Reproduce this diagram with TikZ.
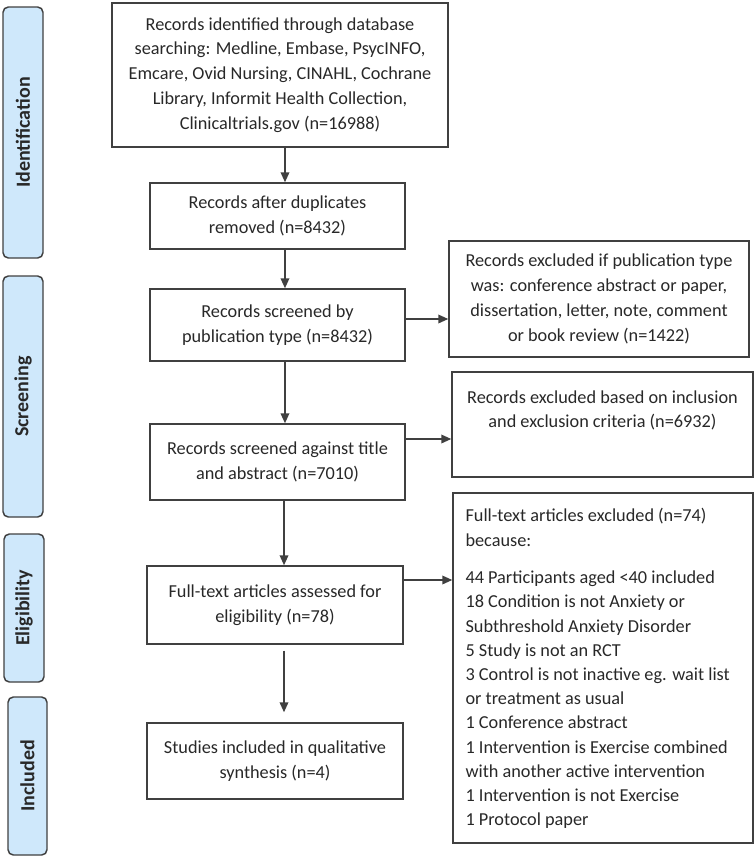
\documentclass[tikz,border=0pt]{standalone}
\usepackage{fontspec}
\setmainfont{Carlito}
\usetikzlibrary{arrows.meta,calc}
\definecolor{sidefill}{RGB}{207,232,251}
\definecolor{linegray}{RGB}{64,64,64}
\definecolor{textgray}{RGB}{40,40,40}
\tikzset{
  box/.style={draw=linegray, line width=1.1pt, rectangle, inner sep=0pt, text=textgray,
    font=\fontsize{13.7pt}{18.6pt}\selectfont, align=center},
  side/.style={draw=linegray, line width=1.1pt, rounded corners=4pt, fill=sidefill, inner sep=0pt},
  sidetext/.style={rotate=90, font=\fontsize{15pt}{18pt}\selectfont\bfseries, text=textgray},
  plain/.style={inner sep=0pt, text=textgray, font=\fontsize{13.7pt}{18.15pt}\selectfont},
  arr/.style={draw=linegray, line width=1.1pt, -{Triangle[length=7.5pt,width=6.5pt]}}
}
\begin{document}
\begin{tikzpicture}[x=0.75pt,y=-0.75pt]
\useasboundingbox (0,0) rectangle (756,858);
% side labels
\node[side, minimum width=30pt, minimum height=188.25pt] (sid) at (23,132.5) {};
\node[sidetext] at (sid.center) {Identification};
\node[side, minimum width=30pt, minimum height=180.75pt] (ssc) at (23,396.5) {};
\node[sidetext] at (ssc.center) {Screening};
\node[side, minimum width=30pt, minimum height=111pt] (sel) at (24,608) {};
\node[sidetext] at (sel.center) {Eligibility};
\node[side, minimum width=29.25pt, minimum height=118.5pt] (sin) at (27.5,776) {};
\node[sidetext] at (sin.center) {Included};
% main column
\node[box, minimum width=252pt, minimum height=108pt] (b1) at (280,75)
 {Records identified through database\\searching: Medline, Embase, PsycINFO,\\Emcare, Ovid Nursing, CINAHL, Cochrane\\Library, Informit Health Collection,\\Clinicaltrials.gov (n=16988)};
\node[box, minimum width=191.25pt, minimum height=49.5pt] (b2) at (277.5,216)
 {Records after duplicates\\removed (n=8432)};
\node[box, minimum width=191.25pt, minimum height=54pt] (b3) at (277.5,325)
 {Records screened by\\publication type (n=8432)};
\node[box, minimum width=191.25pt, minimum height=57pt] (b4) at (277.5,462)
 {Records screened against title\\and abstract (n=7010)};
\node[box, minimum width=192pt, minimum height=58.5pt] (b5) at (275,605)
 {Full-text articles assessed for\\eligibility (n=78)};
\node[box, minimum width=192pt, minimum height=57pt] (b6) at (275,761)
 {Studies included in qualitative\\synthesis (n=4)};
% right column
\node[box, minimum width=225pt, minimum height=87pt] (r1) at (599,299)
 {Records excluded if publication type\\was: conference abstract or paper,\\dissertation, letter, note, comment\\or book review (n=1422)};
\node[box, minimum width=225.75pt, minimum height=78.75pt] (r2) at (602.5,424.5) {};
\node[plain, anchor=north, align=center] (r2t) at ([yshift=-14.6pt]r2.north)
 {Records excluded based on inclusion\\and exclusion criteria (n=6932)};
\node[box, minimum width=225pt, minimum height=262.5pt] (r3) at (603,668) {};
\node[plain, anchor=north west, align=left] (r3t) at ([xshift=9.75pt,yshift=-12pt]r3.north west)
 {Full-text articles excluded (n=74)\\because:\\[10pt]
 44 Participants aged <40 included\\
 18 Condition is not Anxiety or\\
 Subthreshold Anxiety Disorder\\
 5 Study is not an RCT\\
 3 Control is not inactive eg. wait list\\
 or treatment as usual\\
 1 Conference abstract\\
 1 Intervention is Exercise combined\\
 with another active intervention\\
 1 Intervention is not Exercise\\
 1 Protocol paper};
% vertical arrows
\draw[arr] ([xshift=3.75pt]b1.south) -- ([xshift=3.75pt]b1.south |- b2.north);
\draw[arr] ([xshift=5.6pt]b2.south) -- ([xshift=5.6pt]b2.south |- b3.north);
\draw[arr] ([xshift=5.6pt]b3.south) -- ([xshift=5.6pt]b3.south |- b4.north);
\draw[arr] ([xshift=4.9pt]b4.south) -- ([xshift=4.9pt]b4.south |- b5.north);
\draw[arr, shorten <=4.5pt, shorten >=7.5pt] ([xshift=6.75pt]b5.south) -- ([xshift=6.75pt]b5.south |- b6.north);
% horizontal arrows
\draw[arr] ([yshift=4.5pt]b3.east) -- ([yshift=4.5pt]b3.east -| r1.west);
\draw[arr] ([yshift=17.25pt]b4.east) -- ([yshift=17.25pt]b4.east -| r2.west);
\draw[arr] ([yshift=18.75pt]b5.east) -- ([yshift=18.75pt]b5.east -| r3.west);
\end{tikzpicture}
\end{document}
